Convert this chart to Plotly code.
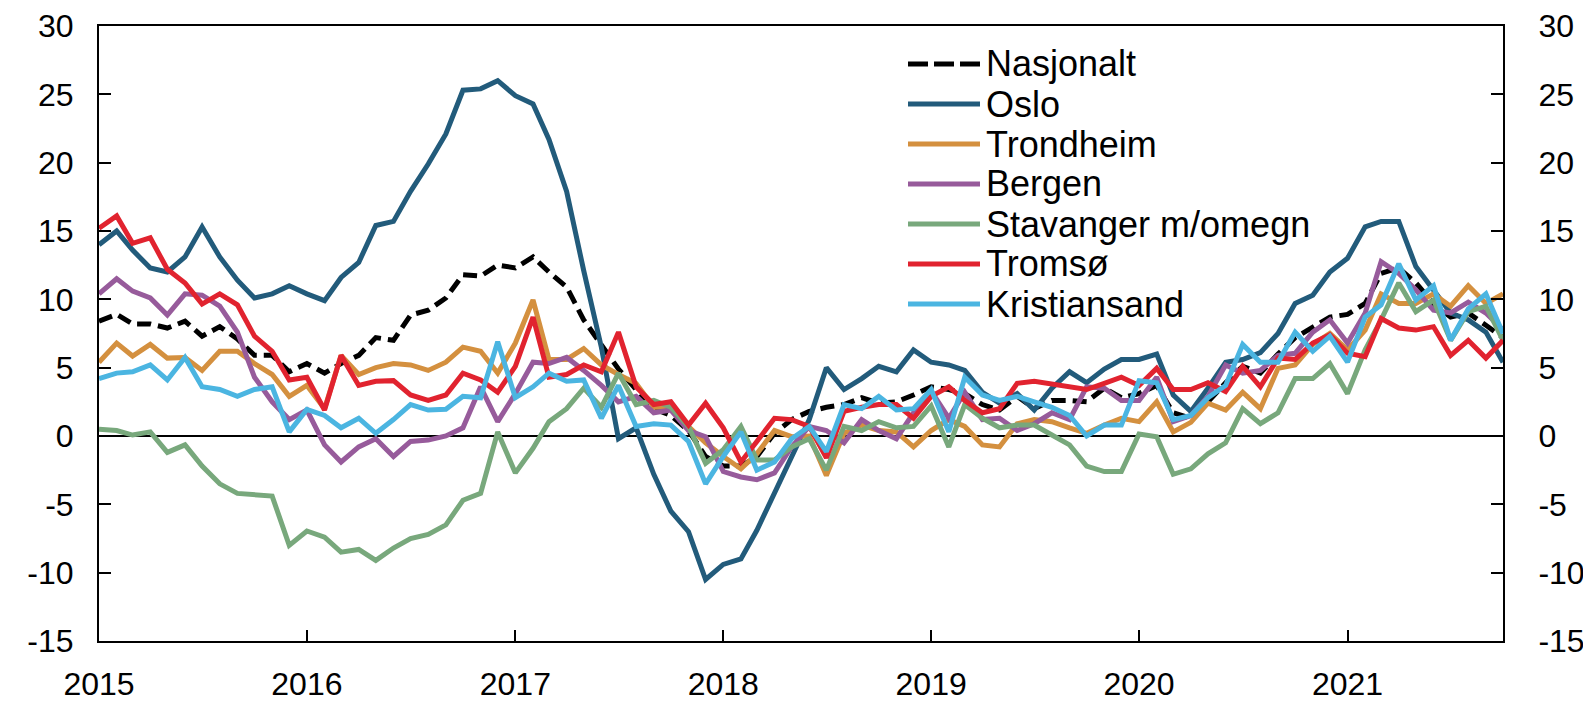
import pandas as pd
import plotly.graph_objects as go

months = pd.date_range("2015-01-01", periods=82, freq="MS")

series_names = ["Nasjonalt", "Oslo", "Trondheim", "Bergen", "Stavanger m/omegn", "Tromsø", "Kristiansand"]

nasjonalt = [8.4, 8.9, 8.2, 8.2, 7.9, 8.4, 7.3, 8.0, 7.1, 5.9,
             5.9, 4.7, 5.3, 4.6, 5.3, 5.9, 7.2, 7.0, 8.85, 9.2,
             10.1, 11.8, 11.7, 12.5, 12.3, 13.1, 12.0, 10.9, 8.5, 6.6,
             4.9, 3.4, 2.0, 1.5, 0.4, -1.5, -2.2, -2.2, -1.5, 0.2,
             1.2, 1.8, 2.1, 2.3, 2.8, 2.4, 2.5, 3.0, 3.6, 3.4,
             3.1, 2.3, 1.9, 2.9, 2.0, 2.6, 2.6, 2.5, 3.5, 2.8,
             3.1, 3.7, 1.7, 1.3, 2.5, 3.9, 5.1, 4.6, 6.0, 7.2,
             8.0, 8.7, 8.9, 9.7, 11.9, 12.3, 11.2, 9.7, 8.7, 9.0,
             8.1, 7.2]

oslo = [14.0, 15.0, 13.6, 12.3, 12.0, 13.1, 15.3, 13.1, 11.4, 10.1,
        10.4, 11.0, 10.4, 9.9, 11.6, 12.7, 15.4, 15.7, 17.9, 19.9,
        22.1, 25.3, 25.4, 26.0, 24.9, 24.3, 21.7, 17.9, 12.1, 6.5,
        -0.2, 0.6, -2.8, -5.5, -7.0, -10.5, -9.4, -9.0, -6.9, -4.2,
        -1.6, 1.2, 5.0, 3.4, 4.2, 5.1, 4.7, 6.3, 5.4, 5.2,
        4.8, 3.2, 2.4, 3.1, 1.9, 3.5, 4.7, 3.9, 4.9, 5.6,
        5.6, 6.0, 3.0, 1.8, 3.5, 5.4, 5.6, 6.1, 7.5, 9.7,
        10.3, 12.0, 13.0, 15.3, 15.7, 15.7, 12.4, 10.6, 9.0, 8.5,
        7.6, 5.4]

trondheim = [5.4, 6.8, 5.85, 6.7, 5.7, 5.75, 4.8, 6.2, 6.2, 5.3,
             4.5, 2.9, 3.7, 2.0, 5.9, 4.5, 5.0, 5.3, 5.2, 4.8,
             5.4, 6.5, 6.2, 4.6, 6.8, 9.95, 5.6, 5.6, 6.4, 5.2,
             4.5, 3.85, 2.1, 2.1, 0.7, -0.5, -1.5, -2.4, -1.3, 0.4,
             -0.05, 0.0, -2.9, 0.2, 0.8, 0.4, 0.3, -0.8, 0.4, 1.2,
             0.7, -0.65, -0.8, 0.9, 1.2, 1.05, 0.6, 0.2, 0.8, 1.3,
             1.05, 2.5, 0.3, 1.0, 2.4, 1.9, 3.2, 2.0, 4.95, 5.2,
             6.7, 7.5, 6.3, 7.75, 10.4, 9.7, 9.7, 10.4, 9.5, 11.0,
             9.7, 10.4]

bergen = [10.4, 11.5, 10.6, 10.1, 8.85, 10.4, 10.3, 9.5, 7.6, 4.3,
          2.5, 1.2, 1.9, -0.65, -1.9, -0.8, -0.2, -1.5, -0.4, -0.3,
          0.0, 0.6, 3.6, 1.05, 3.1, 5.4, 5.3, 5.75, 4.8, 3.7,
          2.5, 2.9, 1.7, 1.9, 0.4, -0.05, -2.6, -3.0, -3.2, -2.7,
          -0.8, 0.7, 0.4, -0.5, 1.2, 0.4, -0.2, 1.7, 3.3, 1.3,
          3.2, 1.2, 1.3, 0.4, 0.9, 1.7, 1.2, 3.6, 3.5, 2.6,
          2.6, 4.3, 1.05, 1.5, 2.9, 5.2, 4.6, 4.8, 5.9, 6.05,
          7.6, 8.5, 6.8, 9.0, 12.75, 11.9, 10.7, 9.2, 9.0, 9.8,
          9.0, 7.75]

stavanger = [0.5, 0.4, 0.07, 0.3, -1.2, -0.65, -2.2, -3.5, -4.2, -4.3,
             -4.4, -8.0, -6.95, -7.4, -8.5, -8.3, -9.1, -8.2, -7.5, -7.2,
             -6.5, -4.7, -4.2, 0.3, -2.7, -0.9, 1.05, 2.0, 3.5, 2.1,
             4.6, 2.3, 2.6, 2.1, 0.7, -2.0, -1.0, 0.7, -1.75, -1.75,
             -0.8, -0.2, -2.5, 0.7, 0.4, 1.05, 0.6, 0.7, 2.2, -0.8,
             2.3, 1.3, 0.6, 0.8, 0.8, 0.07, -0.65, -2.2, -2.6, -2.6,
             0.15, -0.05, -2.8, -2.4, -1.3, -0.5, 2.0, 0.9, 1.7, 4.2,
             4.2, 5.3, 3.1, 6.3, 8.5, 11.2, 9.1, 9.95, 7.0, 9.1,
             9.5, 7.0]

tromso = [15.2, 16.1, 14.1, 14.5, 12.2, 11.2, 9.65, 10.4, 9.6, 7.3,
          6.2, 4.1, 4.3, 1.9, 5.9, 3.7, 4.0, 4.05, 3.0, 2.6,
          3.0, 4.6, 4.1, 3.2, 5.1, 8.7, 4.3, 4.5, 5.2, 4.7,
          7.6, 3.6, 2.3, 2.5, 0.8, 2.4, 0.6, -1.9, -0.4, 1.3,
          1.2, 0.7, -1.6, 1.8, 2.1, 2.3, 2.3, 1.3, 2.9, 3.6,
          2.6, 1.7, 2.0, 3.85, 4.0, 3.8, 3.6, 3.4, 3.85, 4.3,
          3.7, 4.95, 3.4, 3.4, 3.9, 3.25, 5.1, 3.6, 5.7, 5.6,
          6.8, 7.4, 6.05, 5.8, 8.6, 7.9, 7.75, 8.0, 5.9, 7.0,
          5.7, 7.0]

kristiansand = [4.2, 4.6, 4.7, 5.2, 4.1, 5.75, 3.6, 3.4, 2.9, 3.4,
                3.6, 0.3, 1.95, 1.5, 0.6, 1.3, 0.2, 1.2, 2.3, 1.9,
                1.95, 2.9, 2.8, 6.9, 2.8, 3.6, 4.6, 4.0, 4.1, 1.3,
                3.7, 0.7, 0.9, 0.8, -0.4, -3.5, -1.5, 0.3, -2.5, -1.9,
                -0.2, 0.7, -1.15, 2.3, 2.0, 2.9, 1.9, 2.0, 3.4, 0.3,
                4.3, 3.0, 2.6, 2.9, 2.5, 2.1, 1.5, 0.0, 0.8, 0.8,
                4.05, 3.9, 1.2, 1.5, 2.8, 3.7, 6.7, 5.4, 5.4, 7.6,
                6.2, 7.3, 5.4, 8.7, 9.6, 12.6, 9.95, 11.0, 7.0, 9.3,
                10.4, 7.5]

y_ticks = [-15, -10, -5, 0, 5, 10, 15, 20, 25, 30]
y_ticktext = ["-15", "-10", "-5", "0", "5", "10", "15", "20", "25", "30"]

values = [nasjonalt, oslo, trondheim, bergen, stavanger, tromso, kristiansand]
colors = ["#000000", "#225b7b", "#d4903f", "#975b9b", "#78a87c", "#e1232f", "#4bb5e1"]
dashes = ["14px,7px", "solid", "solid", "solid", "solid", "solid", "solid"]

FONT = "Liberation Sans, Arial, sans-serif"
TICK_SIZE = 32
LEG_SIZE = 36

# page body has an 8px offset; margins compensate for it
ML, MR, MT, MB = 91, 96, 18, 68
W = 1591 - ML - MR
H = 701 - MT - MB
OFF = 8

fig = go.Figure()
for name, vals, col, dsh in zip(series_names, values, colors, dashes):
    fig.add_trace(go.Scatter(x=months, y=vals, name=name, mode="lines",
                             line=dict(color=col, width=5, dash=dsh),
                             showlegend=False))

# helper trace for the right axis
fig.add_trace(go.Scatter(x=months, y=nasjonalt, yaxis="y2", mode="lines",
                         line=dict(width=0, color="rgba(0,0,0,0)"),
                         showlegend=False, hoverinfo="skip"))

# custom legend (screen pixel positions converted to paper coords)
def px_x(x):
    return (x - OFF - ML) / W

def px_y(y):
    return 1 - (y - OFF - MT) / H

for k, (name, col, dsh) in enumerate(zip(series_names, colors, dashes)):
    ypx = 64 + 40 * k
    yp = px_y(ypx)
    fig.add_shape(type="line", xref="paper", yref="paper", x0=px_x(908), x1=px_x(980),
                  y0=yp, y1=yp,
                  line=dict(color=col, width=5, dash="20px,6px" if dsh != "solid" else "solid"))
    fig.add_annotation(xref="paper", yref="paper", x=px_x(984), y=yp, text=name,
                       showarrow=False, xanchor="left", yanchor="middle",
                       font=dict(family=FONT, size=LEG_SIZE, color="black"))

axis_common = dict(showgrid=False, linecolor="black", linewidth=2, automargin=False,
                   tickcolor="black", tickwidth=2, ticks="inside",
                   tickfont=dict(family=FONT, size=TICK_SIZE, color="black"))

fig.update_layout(
    width=1591, height=701,
    margin=dict(l=ML, r=MR, t=MT, b=MB),
    plot_bgcolor="white", paper_bgcolor="white",
    xaxis=dict(type="date", range=["2015-01-01", "2021-10-01"], dtick="M12",
               tick0="2015-01-01", tickformat="%Y", ticklen=11, showline=True,
               mirror=True, ticklabelstandoff=14, **axis_common),
    yaxis=dict(range=[-15, 30], tickvals=y_ticks, ticktext=y_ticktext, ticklen=12,
               showline=True, zeroline=True, zerolinecolor="black", zerolinewidth=2,
               ticklabelstandoff=17, **axis_common),
    yaxis2=dict(range=[-15, 30], tickvals=y_ticks, ticktext=y_ticktext, ticklen=12,
                overlaying="y", side="right", showline=True, zeroline=False,
                ticklabelstandoff=27, **axis_common),
)

fig.write_html("out.html")
